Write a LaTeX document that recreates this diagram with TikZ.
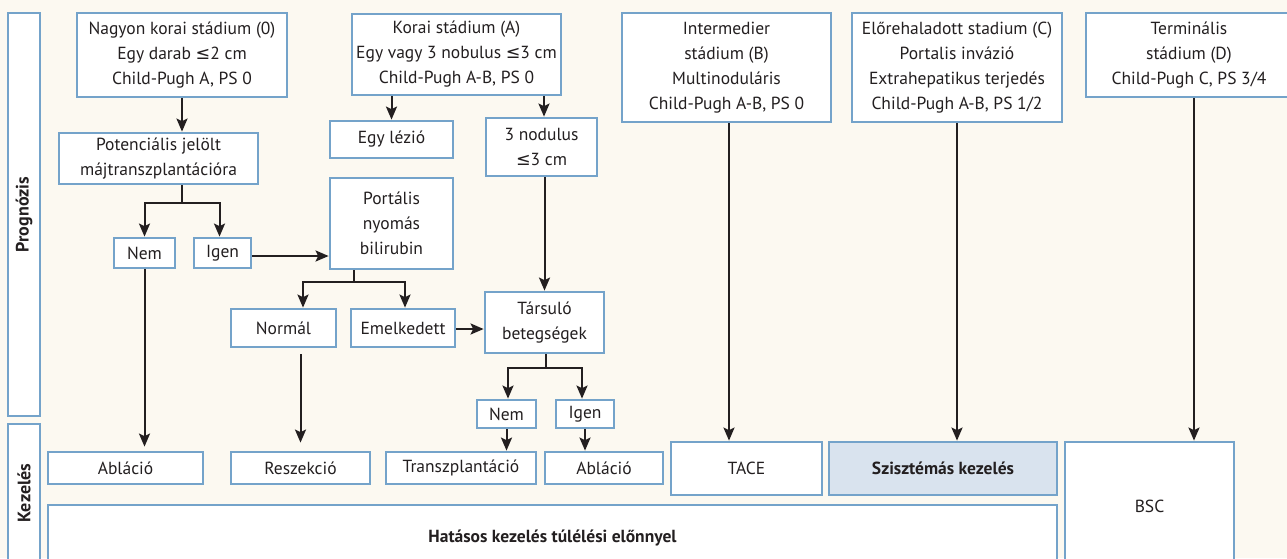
\documentclass[tikz,border=0pt]{standalone}
\usepackage{fontspec}
\setmainfont{PT Sans}
\newfontfamily\symf{DejaVu Sans}
\usetikzlibrary{arrows.meta,calc}
\definecolor{bcol}{HTML}{74A3CA}
\definecolor{bgc}{HTML}{FCF9F1}
\definecolor{szfill}{HTML}{D9E3EE}
\definecolor{acol}{HTML}{231F20}
\newcommand\myle{{\symf ≤}}
% \mybox[opts]{x1}{y1}{x2}{y2}{name}
\newcommand\mybox[6][]{\node[box,#1,minimum width=\fpeval{#4-#2}pt,
  minimum height=\fpeval{#5-#3}pt] (#6) at (\fpeval{(#2+#4)/2},\fpeval{(#3+#5)/2})}
\tikzset{
  box/.style={draw=bcol, line width=2.8pt, fill=white, inner sep=0pt, align=center,
    text=acol, font=\fontsize{17.5}{25}\selectfont},
  lbl/.style={rotate=90, text=acol, font=\fontsize{18}{20}\selectfont\bfseries},
  conn/.style={draw=acol, line width=2pt},
  arr/.style={conn, -{Stealth[length=13pt,width=11pt,inset=2.5pt]}},
}
\begin{document}
\begin{tikzpicture}[x=1pt,y=-1pt]
\fill[bgc] (0,0) rectangle (1287,558);
\useasboundingbox (0,0) rectangle (1287,558);
\clip (0,0) rectangle (1287,558);

% strips
\mybox{8}{13}{40}{416}{prog} {};
\node[lbl] (progl) at (prog.center) {Prognózis};
\mybox{8}{424}{40}{562}{kez} {};
\node[lbl] (kezl) at (kez.center) {Kezelés};

% top row
\mybox{77}{13}{287}{97}{n0} {Nagyon korai stádium (0)\\Egy darab \myle2 cm\\Child-Pugh A, PS 0};
\mybox{352}{14}{561}{95}{A} {Korai stádium (A)\\Egy vagy 3 nobulus \myle3 cm\\Child-Pugh A-B, PS 0};
\mybox{622}{13}{831}{122}{B} {Intermedier\\stádium (B)\\Multinoduláris\\Child-Pugh A-B, PS 0};
\mybox{852}{13}{1062}{122}{C} {Előrehaladott stadium (C)\\Portalis invázió\\Extrahepatikus terjedés\\Child-Pugh A-B, PS 1/2};
\mybox{1086}{13}{1292}{97}{D} {Terminális\\stádium (D)\\Child-Pugh C, PS 3/4};

% middle
\mybox{59}{133}{258}{184}{pot} {Potenciális jelölt\\májtranszplantációra};
\mybox{114}{238}{175}{268}{nem1} {Nem};
\mybox{194}{238}{251}{268}{igen1} {Igen};
\mybox{330}{121}{453}{158}{egy} {Egy lézió};
\mybox{486}{118}{597}{176}{nod} {3 nodulus\\\myle3 cm};
\mybox{330}{178}{453}{269}{port} {Portális\\nyomás\\bilirubin};
\mybox{231}{309}{336}{347}{normal} {Normál};
\mybox{351}{309}{455}{347}{emel} {Emelkedett};
\mybox{485}{292}{604}{353}{tars} {Társuló\\betegségek};
\mybox{477}{400}{536}{428}{nem2} {Nem};
\mybox{556}{400}{614}{428}{igen2} {Igen};

% bottom
\mybox{48}{452}{203}{484}{abl1} {Abláció};
\mybox{231}{452}{370}{484}{resz} {Reszekció};
\mybox{386}{452}{536}{484}{transz} {Transzplantáció};
\mybox{545}{452}{663}{484}{abl2} {Abláció};
\mybox{671}{442}{822}{495}{tace} {TACE};
\mybox[fill=szfill]{829}{442}{1057}{495}{szisz} {\bfseries Szisztémás kezelés};
\mybox{1065}{442}{1234}{570}{bsc} {BSC};
\mybox{48}{505}{1057}{570}{hat} {\bfseries Hatásos kezelés túlélési előnnyel};

% connectors
\draw[arr] (n0.south -| 182,0) -- (pot.north -| 182,0);
\coordinate (b1) at (182,203);
\draw[conn] (pot.south -| b1) -- (b1);
\draw[arr] (b1) -| (nem1.north);
\draw[arr] (b1) -| ([xshift=-3pt]igen1.north);
\draw[arr] (igen1.east |- 0,256) -- (port.west |- 0,256);
\draw[arr, shorten >=4pt] (nem1.south) -- (nem1.south |- abl1.north);

\draw[arr] (egy.north |- A.south) -- (egy.north);
\draw[arr] ([xshift=2.5pt]nod.north |- A.south) -- ([xshift=2.5pt]nod.north);
\draw[arr] (tars.north |- nod.south) -- (tars.north);

\coordinate (b2) at (354,282);
\draw[conn] (port.south -| b2) -- (b2);
\draw[arr] (b2) -| ([xshift=19.5pt]normal.north);
\draw[arr] (b2) -| ([xshift=2pt]emel.north);
\draw[arr] (emel.east |- 0,329) -- (tars.west |- 0,329);
\draw[arr, shorten <=6pt, shorten >=8pt] (resz.north |- normal.south) -- (resz.north);

\coordinate (b3) at (546,368);
\draw[conn] (tars.south -| b3) -- (b3);
\draw[arr] (b3) -| ([xshift=1.5pt]nem2.north);
\draw[arr] (b3) -| ([xshift=-3pt]igen2.north);
\draw[arr] (nem2.south) -- (nem2.south |- transz.north);
\draw[arr] (igen2.south) -- (igen2.south |- abl2.north);

\draw[arr] ([xshift=2.5pt]B.south) -- ([xshift=2.5pt]B.south |- tace.north);
\draw[arr] (C.south) -- (C.south |- szisz.north);
\draw[arr] ([xshift=5pt]D.south) -- ([xshift=5pt]D.south |- bsc.north);
\end{tikzpicture}
\end{document}
